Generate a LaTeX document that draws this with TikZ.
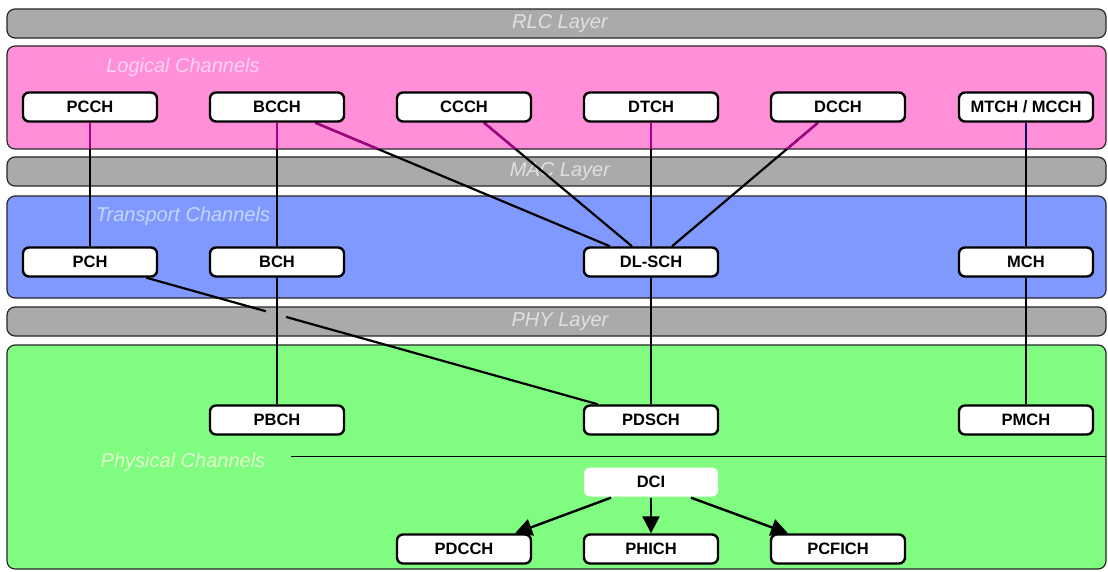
\documentclass[tikz,border=0pt]{standalone}
\usepackage{fontspec}
\setmainfont{Liberation Sans}
\usetikzlibrary{positioning,arrows.meta,backgrounds}

\definecolor{layergray}{RGB}{170,170,170}
\definecolor{logicpink}{RGB}{255,143,216}
\definecolor{transblue}{RGB}{128,153,255}
\definecolor{physgreen}{RGB}{128,252,128}
\definecolor{linkmag}{RGB}{165,0,135}

\begin{document}
\begin{tikzpicture}[
    x=1pt, y=-1pt,
    chan/.style={draw, line width=2.4pt, fill=white, rounded corners=6pt,
                 font=\fontsize{16.5}{18}\selectfont\bfseries,
                 minimum width=134pt, minimum height=29pt, inner sep=0pt},
    band/.style={draw=black!85, line width=1.2pt, rounded corners=8pt},
    band label/.style={font=\fontsize{20}{22}\selectfont\itshape},
    link/.style={line width=2.2pt},
    dci arrow/.style={line width=2.4pt, -{Triangle[length=17pt,width=17pt]}}
]
\useasboundingbox (0,0) rectangle (1108,572);

% Logical channels row
\node[chan] (PCCH) at (90,107) {PCCH};
\node[chan] (BCCH) at (277,107) {BCCH};
\node[chan] (CCCH) at (464,107) {CCCH};
\node[chan] (DTCH) at (651,107) {DTCH};
\node[chan] (DCCH) at (838,107) {DCCH};
\node[chan] (MTCH) at (1026,107) {MTCH / MCCH};

% Transport channels row
\node[chan] (PCH) at (90,262) {PCH};
\node[chan] (BCH) at (277,262) {BCH};
\node[chan] (DLSCH) at (651,262) {DL-SCH};
\node[chan] (MCH) at (1026,262) {MCH};

% Physical channels - data part
\node[chan] (PBCH) at (277,420) {PBCH};
\node[chan] (PDSCH) at (651,420) {PDSCH};
\node[chan] (PMCH) at (1026,420) {PMCH};

% Physical channels - control part
\node[chan, draw=none] (DCI) at (651,482) {DCI};
\node[chan] (PDCCH) at (464,549) {PDCCH};
\node[chan] (PHICH) at (651,549) {PHICH};
\node[chan] (PCFICH) at (838,549) {PCFICH};

% DCI carried on the three control channels
\draw[dci arrow] ([xshift=-40pt]DCI.south) -- ([xshift=51pt]PDCCH.north);
\draw[dci arrow] (DCI.south) -- (PHICH.north);
\draw[dci arrow] ([xshift=40pt]DCI.south) -- ([xshift=-50pt]PCFICH.north);

\begin{scope}[on background layer]
  % Layer bars and channel regions
  \draw[band, fill=layergray] (7,9) rectangle (1106,38);
  \draw[band, fill=logicpink] (7,46) rectangle (1106,149);
  \draw[band, fill=layergray] (7,157) rectangle (1106,186);
  \draw[band, fill=transblue] (7,196) rectangle (1106,298);
  \draw[band, fill=layergray] (7,307) rectangle (1106,336);
  \draw[band, fill=physgreen] (7,345) rectangle (1106,569);
  \draw[line width=1pt] (291,456) -- (1106,456);

  \node[band label, text=black!12] (RLC) at (560,24) {RLC Layer};
  \node[band label, text=black!12] (MAC) at (560,172) {MAC Layer};
  \node[band label, text=black!12] (PHY) at (560,322) {PHY Layer};
  \node[band label, text={rgb,255:red,255;green,210;blue,244}] (LC) at (183,67) {Logical Channels};
  \node[band label, text={rgb,255:red,195;green,215;blue,255}] (TC) at (183,216) {Transport Channels};
  \node[band label, text={rgb,255:red,225;green,255;blue,205}] (PC) at (183,462) {Physical Channels};

  % Logical -> transport mapping
  \draw[link] (PCCH) -- (PCH);
  \draw[link] (BCCH) -- (BCH);
  \draw[link] ([xshift=-30pt]BCCH.south east) -- ([xshift=-41pt]DLSCH.north);
  \draw[link] ([xshift=20pt]CCCH.south) -- ([xshift=-19pt]DLSCH.north);
  \draw[link] (DTCH) -- (DLSCH);
  \draw[link] ([xshift=-20pt]DCCH.south) -- ([xshift=21pt]DLSCH.north);
  \draw[link] (MTCH) -- (MCH);

  % Transport -> physical mapping (PCH line broken where it crosses BCH)
  \path ([xshift=-12pt]PCH.south east) -- ([xshift=15pt]PDSCH.north west)
        coordinate[pos=0.265] (gapA) coordinate[pos=0.31] (gapB);
  \draw[link] ([xshift=-12pt]PCH.south east) -- (gapA);
  \draw[link] (gapB) -- ([xshift=15pt]PDSCH.north west);
  \draw[link] (BCH) -- (PBCH);
  \draw[link] (DLSCH) -- (PDSCH);
  \draw[link] (MCH) -- (PMCH);

  % links coloured inside the logical channel region
  \begin{scope}
    \clip (7,46) rectangle (1106,149);
    \draw[link, linkmag] (PCCH) -- (PCH);
    \draw[link, linkmag] (BCCH) -- (BCH);
    \draw[link, linkmag] ([xshift=-30pt]BCCH.south east) -- ([xshift=-41pt]DLSCH.north);
    \draw[link, linkmag] ([xshift=20pt]CCCH.south) -- ([xshift=-19pt]DLSCH.north);
    \draw[link, linkmag] (DTCH) -- (DLSCH);
    \draw[link, linkmag] ([xshift=-20pt]DCCH.south) -- ([xshift=21pt]DLSCH.north);
    \draw[link, black!60!blue] (MTCH) -- (MCH);
  \end{scope}
\end{scope}

\end{tikzpicture}
\end{document}
